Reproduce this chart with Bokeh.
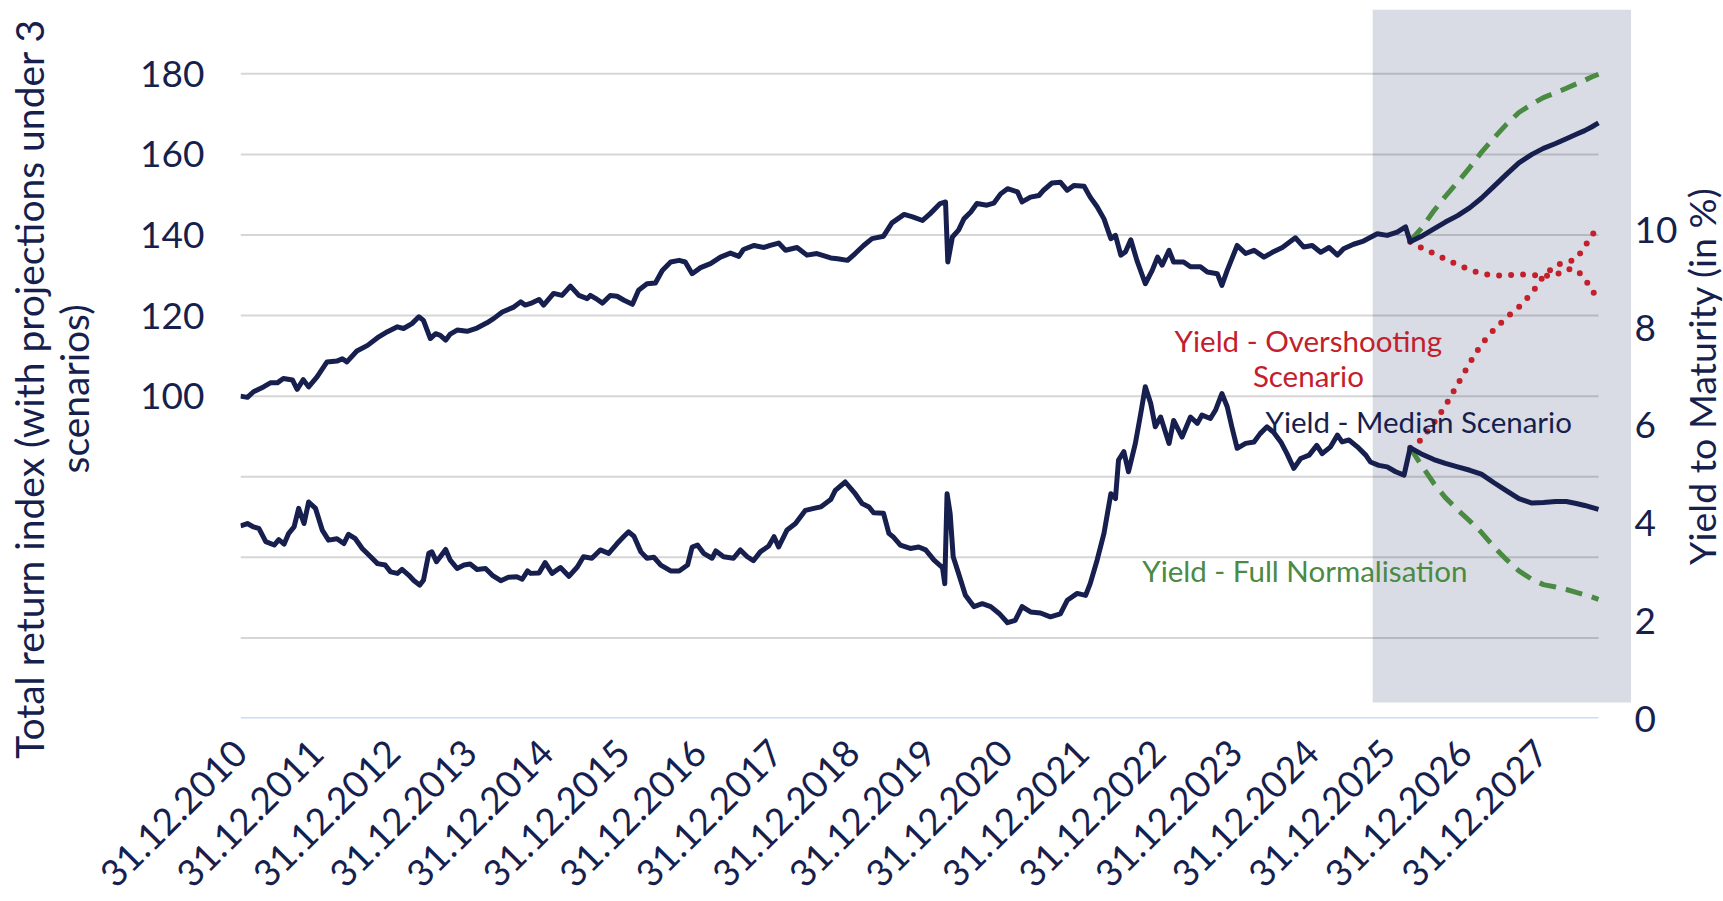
import numpy as np
from bokeh.plotting import figure
from bokeh.models import Range1d, LinearAxis, FixedTicker
from bokeh.core.properties import value
from bokeh.embed import file_html
from bokeh.resources import INLINE

# ---------------- data ----------------
tick_years = [2011, 2012, 2013, 2014, 2015, 2016, 2017, 2018, 2019,
              2020, 2021, 2022, 2023, 2024, 2025, 2026, 2027, 2028]
tick_labels = ["31.12.2010", "31.12.2011", "31.12.2012", "31.12.2013", "31.12.2014",
               "31.12.2015", "31.12.2016", "31.12.2017", "31.12.2018", "31.12.2019",
               "31.12.2020", "31.12.2021", "31.12.2022", "31.12.2023", "31.12.2024",
               "31.12.2025", "31.12.2026", "31.12.2027"]

# Total return index, history (x = decimal year, 2011.0 = 31.12.2010)
tri_dates = [2011.00, 2011.09, 2011.17, 2011.30, 2011.39, 2011.48, 2011.56, 2011.68, 2011.74, 2011.82,
             2011.89, 2012.00, 2012.13, 2012.26, 2012.33, 2012.39, 2012.52, 2012.66, 2012.79, 2012.92,
             2013.05, 2013.13, 2013.24, 2013.33, 2013.39, 2013.48, 2013.55, 2013.61, 2013.68, 2013.74,
             2013.83, 2013.96, 2014.09, 2014.22, 2014.31, 2014.42, 2014.57, 2014.66, 2014.72, 2014.79,
             2014.90, 2014.96, 2015.09, 2015.20, 2015.31, 2015.42, 2015.53, 2015.57, 2015.66, 2015.73,
             2015.83, 2015.92, 2016.01, 2016.12, 2016.20, 2016.31, 2016.42, 2016.51, 2016.62, 2016.73,
             2016.81, 2016.90, 2017.01, 2017.14, 2017.27, 2017.40, 2017.51, 2017.57, 2017.71, 2017.84,
             2017.92, 2018.03, 2018.12, 2018.27, 2018.40, 2018.53, 2018.71, 2018.80, 2018.93, 2019.03,
             2019.14, 2019.25, 2019.40, 2019.51, 2019.67, 2019.78, 2019.91, 2020.01, 2020.14, 2020.21,
             2020.24, 2020.30, 2020.38, 2020.45, 2020.54, 2020.62, 2020.75, 2020.84, 2020.93, 2021.02,
             2021.15, 2021.21, 2021.32, 2021.43, 2021.49, 2021.60, 2021.71, 2021.80, 2021.89, 2022.02,
             2022.10, 2022.19, 2022.28, 2022.37, 2022.43, 2022.50, 2022.56, 2022.63, 2022.71, 2022.82,
             2022.91, 2022.98, 2023.04, 2023.13, 2023.19, 2023.32, 2023.41, 2023.54, 2023.63, 2023.76,
             2023.82, 2023.89, 2024.02, 2024.13, 2024.24, 2024.37, 2024.48, 2024.61, 2024.78, 2024.89,
             2025.00, 2025.11, 2025.22, 2025.33, 2025.41, 2025.54, 2025.67, 2025.85, 2025.98, 2026.11,
             2026.22]
tri_hist = [100.0, 99.7, 101.1, 102.3, 103.3, 103.3, 104.4, 104.0, 101.7, 104.1,
            102.3, 104.8, 108.5, 108.7, 109.3, 108.5, 111.2, 112.6, 114.5, 116.0,
            117.2, 116.8, 118.0, 119.7, 118.8, 114.3, 115.5, 115.1, 113.9, 115.4,
            116.4, 116.1, 116.9, 118.2, 119.3, 120.9, 122.1, 123.4, 122.6, 123.0,
            124.0, 122.6, 125.5, 125.0, 127.3, 125.0, 124.2, 125.0, 124.0, 123.1,
            125.0, 124.8, 123.8, 122.8, 126.3, 127.9, 128.1, 131.2, 133.3, 133.7,
            133.3, 130.4, 131.9, 132.9, 134.5, 135.5, 134.7, 136.4, 137.4, 136.9,
            137.4, 138.0, 136.2, 136.9, 135.0, 135.4, 134.3, 134.1, 133.7, 135.4,
            137.4, 139.1, 139.7, 143.0, 145.1, 144.5, 143.6, 145.3, 147.8, 148.2,
            133.3, 139.5, 141.2, 144.0, 145.7, 147.8, 147.4, 147.9, 150.2, 151.5,
            150.7, 148.2, 149.4, 149.8, 151.1, 152.9, 153.1, 151.1, 152.3, 152.1,
            149.4, 147.0, 144.0, 139.1, 139.9, 135.0, 135.8, 138.8, 133.7, 127.9,
            131.2, 134.5, 132.5, 136.2, 133.3, 133.3, 132.1, 132.1, 130.8, 130.4,
            127.5, 131.2, 137.4, 135.4, 136.2, 134.5, 135.7, 136.9, 139.3, 137.0,
            137.4, 135.7, 136.9, 135.0, 136.6, 137.7, 138.5, 140.3, 139.9, 140.7,
            142.0]

# Yield to maturity (in %), history
ytm_dates = [2011.00, 2011.09, 2011.17, 2011.24, 2011.33, 2011.44, 2011.50, 2011.57, 2011.63, 2011.70,
             2011.76, 2011.83, 2011.89, 2011.98, 2012.07, 2012.15, 2012.26, 2012.35, 2012.41, 2012.50,
             2012.59, 2012.70, 2012.79, 2012.89, 2012.96, 2013.05, 2013.11, 2013.20, 2013.26, 2013.34,
             2013.39, 2013.46, 2013.50, 2013.56, 2013.61, 2013.68, 2013.74, 2013.83, 2013.92, 2014.00,
             2014.09, 2014.20, 2014.29, 2014.40, 2014.50, 2014.61, 2014.68, 2014.75, 2014.79, 2014.90,
             2014.98, 2015.07, 2015.18, 2015.29, 2015.40, 2015.48, 2015.59, 2015.70, 2015.81, 2015.92,
             2016.01, 2016.07, 2016.14, 2016.23, 2016.31, 2016.40, 2016.49, 2016.62, 2016.73, 2016.84,
             2016.90, 2016.97, 2017.05, 2017.16, 2017.21, 2017.31, 2017.44, 2017.53, 2017.62, 2017.70,
             2017.79, 2017.90, 2017.97, 2018.03, 2018.14, 2018.25, 2018.38, 2018.49, 2018.58, 2018.71,
             2018.77, 2018.90, 2019.03, 2019.12, 2019.21, 2019.27, 2019.40, 2019.47, 2019.53, 2019.62,
             2019.75, 2019.86, 2019.95, 2020.06, 2020.17, 2020.20, 2020.23, 2020.27, 2020.31, 2020.38,
             2020.47, 2020.58, 2020.69, 2020.80, 2020.91, 2021.02, 2021.12, 2021.21, 2021.32, 2021.45,
             2021.58, 2021.71, 2021.80, 2021.93, 2022.04, 2022.10, 2022.19, 2022.28, 2022.37, 2022.43,
             2022.47, 2022.54, 2022.60, 2022.69, 2022.76, 2022.82, 2022.89, 2022.95, 2023.02, 2023.13,
             2023.19, 2023.30, 2023.41, 2023.50, 2023.56, 2023.67, 2023.74, 2023.82, 2023.89, 2023.95,
             2024.02, 2024.13, 2024.24, 2024.32, 2024.41, 2024.50, 2024.59, 2024.67, 2024.76, 2024.85,
             2024.96, 2025.06, 2025.13, 2025.24, 2025.33, 2025.39, 2025.48, 2025.59, 2025.70, 2025.76,
             2025.87, 2025.98, 2026.09, 2026.20]
ytm_hist = [3.94, 3.99, 3.92, 3.89, 3.62, 3.55, 3.66, 3.57, 3.79, 3.92,
            4.30, 3.99, 4.43, 4.30, 3.85, 3.65, 3.68, 3.58, 3.77, 3.68,
            3.48, 3.31, 3.17, 3.14, 3.00, 2.97, 3.05, 2.93, 2.83, 2.73,
            2.83, 3.38, 3.41, 3.21, 3.31, 3.46, 3.24, 3.07, 3.14, 3.16,
            3.05, 3.07, 2.93, 2.82, 2.89, 2.90, 2.85, 3.02, 2.97, 2.98,
            3.19, 2.97, 3.09, 2.91, 3.10, 3.31, 3.28, 3.45, 3.38, 3.58,
            3.73, 3.82, 3.73, 3.41, 3.28, 3.30, 3.14, 3.02, 3.02, 3.14,
            3.51, 3.55, 3.38, 3.28, 3.43, 3.31, 3.28, 3.45, 3.31, 3.23,
            3.41, 3.53, 3.72, 3.51, 3.86, 3.99, 4.26, 4.30, 4.33, 4.48,
            4.67, 4.84, 4.60, 4.40, 4.33, 4.21, 4.20, 3.79, 3.71, 3.55,
            3.48, 3.51, 3.45, 3.24, 3.09, 2.76, 4.60, 4.20, 3.31, 2.97,
            2.52, 2.29, 2.35, 2.29, 2.15, 1.96, 2.01, 2.29, 2.18, 2.16,
            2.08, 2.14, 2.42, 2.56, 2.52, 2.76, 3.24, 3.79, 4.60, 4.50,
            5.29, 5.46, 5.05, 5.63, 6.24, 6.79, 6.45, 5.97, 6.17, 5.63,
            6.10, 5.76, 6.17, 6.04, 6.21, 6.14, 6.32, 6.65, 6.38, 5.97,
            5.53, 5.63, 5.66, 5.83, 5.97, 5.85, 5.66, 5.42, 5.12, 5.32,
            5.39, 5.59, 5.42, 5.56, 5.80, 5.66, 5.70, 5.56, 5.39, 5.25,
            5.18, 5.15, 5.05, 4.98]

# Projections under 3 scenarios
proj_dates = [2026.28, 2026.42, 2026.59, 2026.74, 2026.90, 2027.06, 2027.21, 2027.37, 2027.54,
              2027.70, 2027.87, 2028.02, 2028.18, 2028.32, 2028.45, 2028.56, 2028.65, 2028.74]
tri_median = [138.3, 139.6, 141.5, 143.2, 144.8, 146.8, 149.1, 152.0, 155.1,
              157.9, 160.0, 161.5, 162.7, 163.9, 165.0, 165.9, 166.8, 167.8]
tri_full_norm = [138.5, 141.5, 146.0, 149.6, 153.1, 156.8, 160.5, 164.0, 167.5,
                 170.4, 172.5, 174.1, 175.3, 176.4, 177.5, 178.4, 179.2, 179.9]
tri_overshoot = [138.3, 136.9, 135.4, 134.0, 132.6, 131.4, 130.4, 129.9, 130.0,
                 130.2, 130.1, 129.8, 130.0, 131.5, 131.4, 129.2, 126.4, 124.0]
ytm_median = [5.54, 5.42, 5.30, 5.22, 5.15, 5.08, 5.00, 4.83, 4.66,
              4.50, 4.41, 4.42, 4.44, 4.44, 4.40, 4.36, 4.32, 4.28]
ytm_full_norm = [5.54, 5.20, 4.81, 4.52, 4.27, 4.04, 3.81, 3.52, 3.25,
                 3.02, 2.85, 2.74, 2.69, 2.64, 2.58, 2.53, 2.49, 2.44]
ytm_overshoot = [5.54, 5.70, 6.05, 6.40, 6.84, 7.28, 7.66, 7.95, 8.21,
                 8.42, 8.71, 9.05, 9.28, 9.34, 9.40, 9.66, 9.88, 10.08]

left_ticks = [100, 120, 140, 160, 180]
grid_levels = [40, 60, 80, 100, 120, 140, 160, 180]
base_level = 20
right_ticks = [0, 2, 4, 6, 8, 10]
forecast_start = 2025.79
forecast_end = 2029.165

left_title = "Total return index (with projections under 3\nscenarios)"
right_title = "Yield to Maturity (in %)"

# ---------------- styling ----------------
NAVY = "#161f4e"
GREEN = "#4a8a43"
RED = "#c3202b"
BAND = "#d9dce4"
FONT = "Lato"

X_START, X_END = 2011.0, 2030.373
Y_START, Y_END = 20.0, 195.96
R_START, R_END = 0.0, 14.51

p = figure(width=1723, height=901, output_backend="svg", toolbar_location=None,
           x_range=Range1d(X_START, X_END), y_range=Range1d(Y_START, Y_END),
           min_border_left=240, min_border_right=0, min_border_top=9, min_border_bottom=182)
p.extra_y_ranges = {"ytm": Range1d(R_START, R_END)}
p.outline_line_color = None
p.background_fill_color = "white"
p.border_fill_color = "white"
p.xgrid.visible = False
p.ygrid.visible = False

# forecast shading
p.quad(left=[forecast_start], right=[forecast_end], bottom=[24.0], top=[Y_END],
       fill_color=BAND, line_color=None)

# gridlines and base line
x_first = tri_dates[0]
x_last = proj_dates[-1]
p.segment(x0=[x_first] * len(grid_levels), x1=[x_last] * len(grid_levels),
          y0=grid_levels, y1=grid_levels, line_color="black", line_alpha=0.16, line_width=2)
p.segment(x0=[x_first], x1=[x_last], y0=[base_level], y1=[base_level],
          line_color="#d0d9f6", line_width=3)

# projections (scenario lines)
p.line(proj_dates, tri_overshoot, line_color=RED, line_width=6, line_dash="0 12", line_cap="round")
p.line(proj_dates, ytm_overshoot, line_color=RED, line_width=6, line_dash="0 12", line_cap="round",
       y_range_name="ytm")
p.line(proj_dates, tri_full_norm, line_color=GREEN, line_width=5, line_dash="17 10")
p.line(proj_dates, ytm_full_norm, line_color=GREEN, line_width=5, line_dash="17 10",
       y_range_name="ytm")

# history + median
p.line(tri_dates + proj_dates, tri_hist + tri_median, line_color=NAVY, line_width=5,
       line_join="round")
p.line(ytm_dates + proj_dates, ytm_hist + ytm_median, line_color=NAVY, line_width=5,
       line_join="round", y_range_name="ytm")

# annotations
p.text(x=[2024.95, 2024.95], y=[113.9, 105.2], text=["Yield - Overshooting", "Scenario"],
       text_color=RED, text_font=value(FONT), text_font_size="29.5px",
       text_align="center", text_baseline="middle")
p.text(x=[2024.39], y=[93.6], text=["Yield - Median Scenario"],
       text_color=NAVY, text_font=value(FONT), text_font_size="29.5px",
       text_align="left", text_baseline="middle")
p.text(x=[2022.78], y=[56.7], text=["Yield - Full Normalisation"],
       text_color=GREEN, text_font=value(FONT), text_font_size="29.5px",
       text_align="left", text_baseline="middle")

# right-axis title (reads bottom to top)
p.text(x=[2030.09], y=[104.96], text=[right_title], angle=np.pi / 2,
       text_color=NAVY, text_font=value(FONT), text_font_size="37.5px",
       text_align="center", text_baseline="middle")

# axes
xa = p.xaxis[0]
xa.ticker = FixedTicker(ticks=tick_years)
xa.major_label_overrides = {t: l for t, l in zip(tick_years, tick_labels)}
xa.major_label_orientation = np.pi / 4
xa.axis_line_color = None
xa.major_tick_line_color = None
xa.minor_tick_line_color = None
xa.major_label_text_font = FONT
xa.major_label_text_font_size = "37px"
xa.major_label_text_color = NAVY
xa.major_label_standoff = 22

pad = "\u00a0" * 5
ya = p.yaxis[0]
ya.ticker = FixedTicker(ticks=left_ticks)
ya.axis_line_color = None
ya.major_tick_line_color = None
ya.minor_tick_line_color = None
ya.major_label_text_font = FONT
ya.major_label_text_font_size = "37px"
ya.major_label_text_color = NAVY
ya.major_label_standoff = 30
ya.axis_label = "\n".join(line + pad for line in left_title.split("\n"))
ya.axis_label_text_font = FONT
ya.axis_label_text_font_size = "39px"
ya.axis_label_text_font_style = "normal"
ya.axis_label_text_color = NAVY
ya.axis_label_text_line_height = 0.98
ya.axis_label_standoff = 40

# right axis sits at the canvas edge; its labels are pulled in next to the shaded area
ra = LinearAxis(y_range_name="ytm", ticker=FixedTicker(ticks=right_ticks))
ra.axis_line_color = None
ra.major_tick_line_color = None
ra.minor_tick_line_color = None
ra.major_tick_out = 0
ra.major_tick_in = 0
ra.major_label_text_font = FONT
ra.major_label_text_font_size = "37px"
ra.major_label_text_color = NAVY
ra.major_label_standoff = -89
p.add_layout(ra, "right")

open("out.html", "w").write(file_html(p, INLINE))
